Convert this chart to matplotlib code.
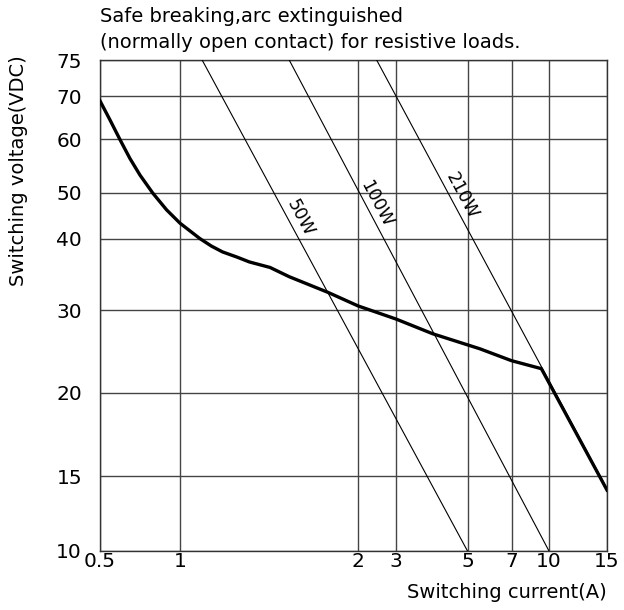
import matplotlib
matplotlib.use("Agg")
import matplotlib.pyplot as plt
import numpy as np

# tick values of the (non uniform) log-like grid used in the datasheet
x_ticks = [0.5, 1, 2, 3, 5, 7, 10, 15]
y_ticks = [10, 15, 20, 30, 40, 50, 60, 70, 75]
x_ticklabels = ["0.5", "1", "2", "3", "5", "7", "10", "15"]
y_ticklabels = ["10", "15", "20", "30", "40", "50", "60", "70", "75"]

# relative spacing of the grid lines as drawn in the original chart
x_grid_pos = [0, 80, 258, 296, 367.5, 411.5, 449, 507]
y_grid_pos = [0, 75, 158.3, 241, 312.5, 358.3, 411.7, 455, 491]

# breaking capacity curve (A, VDC)
curve_current = [0.5, 0.545, 0.595, 0.648, 0.707, 0.79, 0.89, 1.0, 1.08, 1.13,
                 1.18, 1.25, 1.31, 1.42, 1.53, 1.78, 2.0, 3.0, 3.9, 5.5, 7.0, 9.3, 15]
curve_voltage = [68.8, 64.3, 59.9, 56.2, 53.1, 49.9, 46.0, 43.1, 40.0, 38.8,
                 37.9, 37.1, 36.4, 35.6, 34.3, 32.2, 30.5, 28.7, 26.7, 24.8, 23.4, 22.5, 13.9]

# constant power reference lines: (label, current pts, voltage pts)
power_lines = [
    ("50W", [1.09, 5], [75, 10]),
    ("100W", [1.53, 10], [75, 10]),
    ("210W", [2.44, 15], [75, 14.0]),
]
power_label_pos = {"50W": (1.60, 44.2), "100W": (2.42, 47.4), "210W": (4.80, 49.2)}


def make_scale(ticks, pos):
    lt = np.log10(ticks)

    def fwd(v):
        v = np.clip(np.asarray(v, dtype=float), 1e-9, None)
        return np.interp(np.log10(v), lt, pos)

    def inv(p):
        return 10 ** np.interp(np.asarray(p, dtype=float), pos, lt)

    return fwd, inv


plt.rcParams['font.family'] = ['DejaVu Sans']

fig = plt.figure(figsize=(6.24, 6.10), dpi=100)
ax = fig.add_axes([100 / 624, 59 / 610, 507 / 624, 491 / 610])

ax.set_xscale("function", functions=make_scale(x_ticks, x_grid_pos))
ax.set_yscale("function", functions=make_scale(y_ticks, y_grid_pos))
ax.set_xlim(x_ticks[0], x_ticks[-1])
ax.set_ylim(y_ticks[0], y_ticks[-1])

ax.set_xticks(x_ticks)
ax.set_xticklabels(x_ticklabels)
ax.set_yticks(y_ticks)
ax.set_yticklabels(y_ticklabels)
ax.minorticks_off()
ax.tick_params(length=0, labelsize=14.5)
ax.tick_params(axis="x", pad=1)
ax.tick_params(axis="y", pad=13)

ax.grid(True, color="#444444", linewidth=1.0)
for s in ax.spines.values():
    s.set_color("#333333")
    s.set_linewidth(1.0)

# power lines
for name, cur, volt in power_lines:
    ax.plot(cur, volt, color="black", linewidth=0.8, zorder=3)
    tx, ty = power_label_pos[name]
    ax.text(tx, ty, name, rotation=-62, rotation_mode="anchor",
            ha="center", va="center", fontsize=12.5, zorder=4)

# breaking curve
ax.plot(curve_current, curve_voltage, color="black", linewidth=2.4,
        solid_joinstyle="round", zorder=5)

ax.set_xlabel("Switching current(A)", fontsize=14, loc="right")
ax.xaxis.set_label_coords(1.0, -0.065)
ax.set_ylabel("Switching voltage(VDC)", fontsize=14, loc="top")
ax.yaxis.set_label_coords(-0.142, 1.01)
ax.set_title("Safe breaking,arc extinguished\n(normally open contact) for resistive loads.",
             fontsize=14, loc="left", pad=9, linespacing=1.4)

fig.savefig("out.png", dpi=100)
